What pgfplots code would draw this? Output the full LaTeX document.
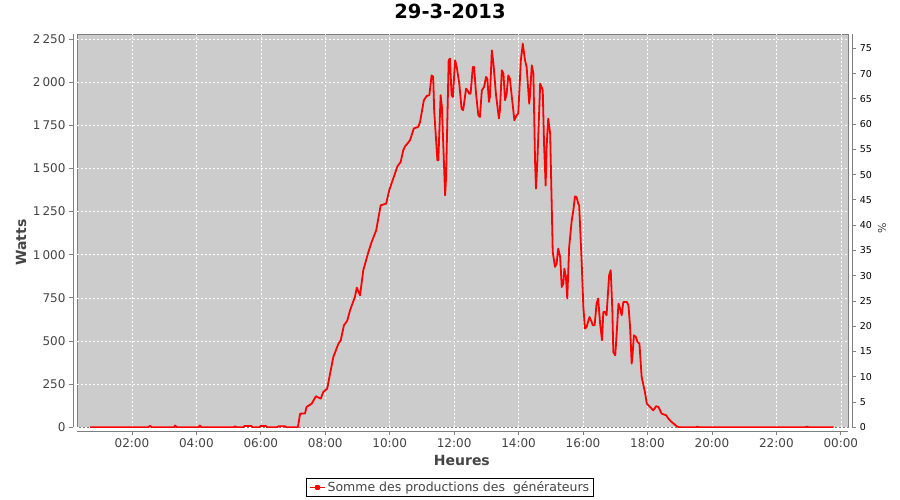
\documentclass[border=0pt]{standalone}
\usepackage{fontspec}
\setmainfont{DejaVu Sans}
\usepackage{pgfplots}
\pgfplotsset{compat=1.18}
\definecolor{plotbg}{RGB}{204,204,204}
\definecolor{axgray}{RGB}{128,128,128}
\definecolor{lblgray}{RGB}{68,68,68}
\begin{document}
\begin{tikzpicture}
\begin{axis}[
  name=main,
  at={(0pt,0pt)}, anchor=south west,
  scale only axis, width=771.3pt, height=393pt,
  xmin=0.295, xmax=24.233, ymin=0, ymax=2277,
  axis x line*=bottom, axis y line*=left,
  axis x line shift=4pt, axis y line shift=4pt,
  axis line style={-, draw=axgray, line width=0.8pt},
  axis background/.style={fill=plotbg, draw=axgray, line width=0.8pt},
  tick align=outside, major tick length=4pt,
  tick style={draw=axgray, line width=0.8pt},
  xtick={2,4,...,24},
  xticklabels={02:00,04:00,06:00,08:00,10:00,12:00,14:00,16:00,18:00,20:00,22:00,00:00},
  ytick={0,250,...,2250},
  yticklabels={0,250,500,750,1\thinspace000,1\thinspace250,1\thinspace500,1\thinspace750,2\thinspace000,2\thinspace250},
  ticklabel style={font=\fontsize{12}{14}\selectfont, text=lblgray},
  grid=major,
  major grid style={white, line width=0.6pt, dash pattern=on 2pt off 2pt},
  xlabel={Heures},
  xlabel style={at={(axis description cs:0.499,-0.0832)}, anchor=center, font=\bfseries\fontsize{14}{16}\selectfont, text=lblgray},
  ylabel={Watts},
  ylabel style={at={(axis description cs:-0.0726,0.47)}, anchor=center, font=\bfseries\fontsize{14}{16}\selectfont, text=lblgray},
  title={29-3-2013},
  title style={at={(axis description cs:0.4836,1.044)}, anchor=center, font=\bfseries\fontsize{19.5}{22}\selectfont},
  legend style={at={(axis description cs:0.4836,-0.1532)}, anchor=center, draw=black, line width=0.8pt, fill=white, font=\fontsize{12.5}{14}\selectfont, text=lblgray, inner xsep=2pt, inner ysep=1pt},
  legend image code/.code={\draw[red, line width=1.8pt] (0pt,0pt) -- (15pt,0pt); \fill[red] (6pt,-1.5pt) rectangle (9pt,1.5pt);},
]
\addplot[red, line width=1.8pt, line join=round] coordinates {
(0.70,0)
(2.50,0)(2.56,8)(2.62,0)
(3.30,0)(3.34,10)(3.40,0)
(4.06,0)(4.11,10)(4.16,0)
(5.15,0)(5.20,6)(5.25,0)
(5.45,0)(5.50,8)(5.70,8)(5.75,0)
(5.95,0)(6.00,8)(6.15,8)(6.20,0)
(6.50,0)(6.55,6)(6.75,6)(6.80,0)
(7.15,0)
(7.22,79)(7.37,80)(7.42,118)(7.58,137)(7.71,180)(7.86,166)(7.94,205)(8.06,224)(8.15,311)(8.25,407)(8.41,485)(8.48,504)(8.58,591)(8.68,616)(8.77,678)(8.92,755)(8.98,809)(9.08,765)(9.18,910)(9.34,1016)(9.44,1074)(9.58,1141)(9.72,1286)(9.89,1296)(9.99,1377)(10.11,1441)(10.24,1512)(10.34,1537)(10.42,1605)(10.48,1628)(10.63,1663)(10.75,1732)(10.88,1740)(10.94,1767)(11.06,1895)(11.15,1920)(11.23,1924)(11.30,2039)(11.35,2030)(11.38,1837)(11.48,1547)(11.51,1547)(11.58,1924)(11.62,1856)(11.72,1344)(11.75,1450)(11.83,2126)(11.87,2136)(11.92,1924)(11.96,1914)(12.03,2126)(12.08,2088)(12.16,1991)(12.23,1846)(12.28,1837)(12.37,1962)(12.41,1953)(12.47,1933)(12.51,1933)(12.58,2088)(12.62,2088)(12.68,1933)(12.75,1808)(12.80,1798)(12.86,1953)(12.93,1972)(12.99,2030)(13.03,2020)(13.08,1885)(13.11,1914)(13.17,2184)(13.22,2107)(13.30,1924)(13.39,1789)(13.42,1837)(13.48,2068)(13.53,2049)(13.58,1895)(13.63,1933)(13.68,2039)(13.73,2020)(13.79,1914)(13.87,1779)(13.94,1808)(13.99,1817)(14.07,2126)(14.13,2223)(14.20,2126)(14.25,2088)(14.33,1875)(14.35,1914)(14.41,2097)(14.46,2049)(14.51,1547)(14.54,1383)(14.58,1527)(14.67,1991)(14.75,1953)(14.79,1644)(14.84,1400)(14.87,1624)(14.92,1789)(14.98,1701)(15.06,1016)(15.13,929)(15.18,948)(15.23,1035)(15.29,987)(15.34,813)(15.39,833)(15.42,919)(15.47,871)(15.51,746)(15.57,1045)(15.65,1199)(15.70,1257)(15.75,1338)(15.80,1334)(15.85,1296)(15.88,1286)(15.91,1161)(15.96,948)(16.01,697)(16.06,572)(16.11,581)(16.20,639)(16.27,610)(16.30,591)(16.36,591)(16.42,717)(16.47,746)(16.53,601)(16.59,504)(16.63,668)(16.68,668)(16.73,649)(16.81,881)(16.86,910)(16.91,678)(16.94,436)(17.00,417)(17.05,562)(17.10,717)(17.15,688)(17.20,649)(17.25,726)(17.36,726)(17.41,707)(17.46,581)(17.51,369)(17.54,427)(17.58,533)(17.64,523)(17.69,494)(17.75,485)(17.82,291)(17.92,205)(17.98,137)(18.08,118)(18.18,98)(18.27,122)(18.34,118)(18.44,79)(18.58,70)(18.65,50)(18.75,31)(18.91,6)(18.98,0)
(19.50,0)(19.55,4)(19.60,0)(22.90,0)(22.95,4)(23.00,0)(23.78,0)
};
\addlegendentry{Somme des productions des\ \ générateurs}
\end{axis}
\begin{axis}[
  at={(main.south west)}, anchor=south west,
  scale only axis, width=771.3pt, height=393pt,
  xmin=0.295, xmax=24.233, ymin=0, ymax=77.77,
  hide x axis,
  axis y line*=right, axis y line shift=4pt,
  axis line style={-, draw=axgray, line width=0.8pt},
  tick align=outside, major tick length=4pt,
  tick style={draw=axgray, line width=0.8pt},
  ytick={0,5,...,75},
  /pgf/number format/assume math mode=true,
  yticklabel style={font=\fontsize{9.5}{11}\selectfont, text=black},
  ylabel={\%},
  ylabel style={at={(axis description cs:1.0437,0.507)}, anchor=center, font=\fontsize{11}{13}\selectfont, text=lblgray},
]
\end{axis}
\pgfresetboundingbox
\path[use as bounding box] (main.south west) ++(-77pt,-72.7pt) rectangle ++(900pt,500pt);
\end{tikzpicture}
\end{document}
